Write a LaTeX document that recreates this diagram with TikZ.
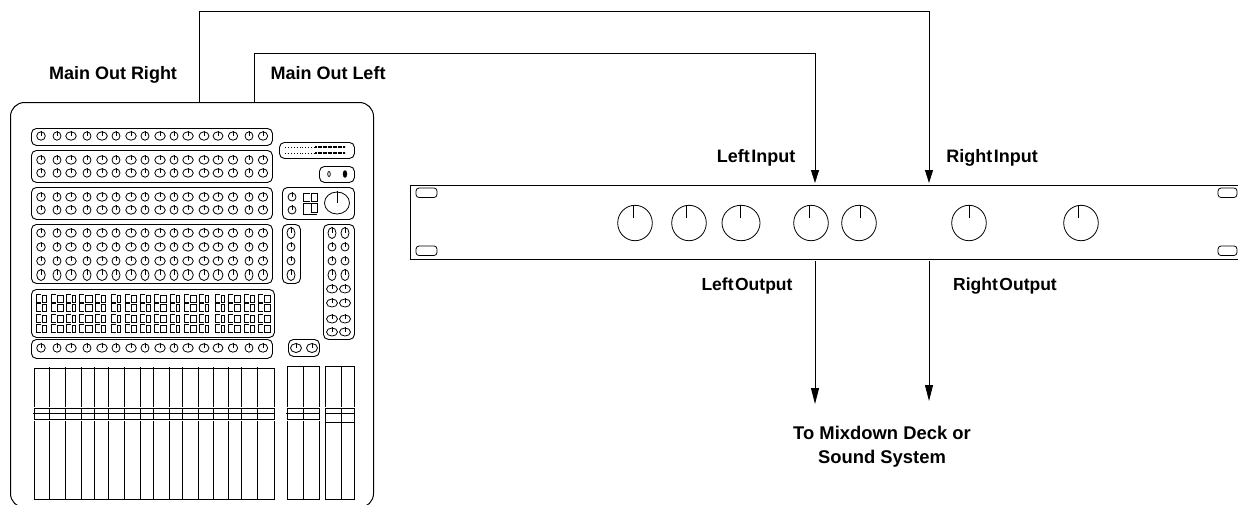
\documentclass[tikz,border=0pt]{standalone}
\usepackage{fontspec}
\setmainfont{Liberation Sans}
\usetikzlibrary{positioning, arrows.meta}

\tikzset{
    wire/.style={draw, line width=0.9pt},
    arrowwire/.style={wire, -{Triangle[length=13pt,width=8pt]}},
    longwire/.style={wire, -{Triangle[length=16pt,width=8pt]}},
    panel/.style={draw, line width=0.9pt, rounded corners=5pt, inner sep=0pt, anchor=north west},
    knobline/.style={draw, line width=0.8pt},
    slider/.style={draw, line width=0.8pt},
    caption/.style={font=\fontsize{18}{24}\selectfont\bfseries, align=center, inner sep=0pt, anchor=base},
    smallcaption/.style={caption, font=\fontsize{17.5}{24}\selectfont\bfseries},
    bigcaption/.style={caption, font=\fontsize{18.4}{24}\selectfont\bfseries}
}

% knob at (x,y) with radii rx, ry
\newcommand{\knob}[4]{
    \draw[knobline] (#1,#2) ellipse ({#3} and {#4});
    \draw[knobline] (#1,#2-#4-1) -- (#1,#2);
}
% pair of switch boxes: left edge, width, top, bottom
\newcommand{\switchpair}[4]{
    \draw[line width=0.8pt] (#1+5,#3) -- (#1,#3) -- (#1,#4) -- (#1+5,#4);
    \draw[line width=0.8pt] (#1+6,#3+1) rectangle (#1+#2,#4);
}

\begin{document}
\begin{tikzpicture}[x=1pt, y=-1pt]
    \useasboundingbox (0,0) rectangle (1238,504);

    % mixer
    \node[draw, line width=1pt, rounded corners=14pt, minimum width=363pt, minimum height=405pt, inner sep=0pt, anchor=north west] (mixer) at (10,102) {};
    \coordinate (outR) at (199,102);
    \coordinate (outL) at (254,102);

    \node[panel, minimum width=241pt, minimum height=17pt] (rowA) at (31,128) {};
    \node[panel, minimum width=241pt, minimum height=32pt] (rowB) at (31,150) {};
    \node[panel, minimum width=241pt, minimum height=32pt] (rowC) at (31,187) {};
    \node[panel, minimum width=241pt, minimum height=59pt] (rowD) at (31,224) {};
    \node[panel, minimum width=243pt, minimum height=48pt] (rowE) at (31,289) {};
    \node[panel, minimum width=241pt, minimum height=19pt] (rowF) at (31,339) {};

    \foreach \x/\r in {41/4.3,57/4,71/5.3,87/4,102/5.3,116/4,131/5.3,145/4,160/5.3,174/4,188/5.3,204/5,218/5,233/4.7,249/4,263/4.7} {
        \foreach \y in {136,160,173,197,210,233,247,261,348} {
            \knob{\x}{\y}{\r}{4.2}
        }
        \knob{\x}{275}{\r}{5.5}
    }
    % switches
    \foreach \x/\w in {36/10,51/12,66/9,79/13,95/10,111/9,125/11,140/10,154/12,170/9,184/12,199/9,215/9,228/12,244/10,258/12} {
        \foreach \t/\b in {294/302,303/311,314/322,324/332} {
            \switchpair{\x}{\w}{\t}{\b}
        }
    }

    % meter section
    \node[panel, minimum width=75pt, minimum height=16pt] (meter) at (279,142) {};
    \foreach \y in {147,153} {
        \draw[line width=0.9pt, dotted] (285,\y) -- (315,\y);
        \draw[line width=1.1pt, dash pattern=on 2pt off 0.5pt] (315,\y) -- (345,\y);
    }
    \node[panel, minimum width=35pt, minimum height=16pt] (phones) at (319,166) {};
    \draw[line width=0.8pt] (329,174) ellipse (1.3 and 2.5);
    \draw[fill=black] (345,174) ellipse (2 and 3.5);

    % master section
    \node[panel, minimum width=72pt, minimum height=32pt] (master) at (282,187) {};
    \knob{292}{197}{4}{4}
    \knob{292}{210}{4}{4}
    \draw[line width=0.8pt] (310,193) -- (303,193) -- (303,201) -- (310,201);
    \draw[line width=0.8pt] (311,193) rectangle (317,201);
    \draw[line width=0.8pt] (317,203) -- (303,203) -- (303,214) -- (317,214);
    \draw[line width=0.8pt] (311,203) rectangle (317,212);
    \knob{337}{203}{12.5}{11}

    \node[panel, minimum width=18pt, minimum height=59pt] (aux) at (282,224) {};
    \knob{291}{233}{4}{5.5}
    \knob{291}{247}{4}{4}
    \knob{291}{261}{4}{4}
    \knob{291}{275}{4}{5.5}

    \node[panel, minimum width=31pt, minimum height=115pt] (sends) at (323,224) {};
    \foreach \x in {332,345} {
        \knob{\x}{233}{4}{5.5}
        \knob{\x}{247}{4}{4}
        \knob{\x}{261}{4}{4}
        \knob{\x}{275}{4}{5.5}
        \foreach \y in {289,303,319,332} {
            \knob{\x}{\y}{5.5}{4}
        }
    }
    \node[panel, minimum width=31pt, minimum height=17pt] (pair) at (288,339) {};
    \knob{296}{348}{5.5}{4.5}
    \knob{312}{348}{5.5}{4.5}

    % faders
    \draw[slider] (34,407) -- (34,368) -- (274,368) -- (274,407);
    \draw[slider] (34,421) -- (34,499) -- (274,499) -- (274,421);
    \foreach \x in {49,65,81,94,108,124,140,153,169,182,198,213,228,241,257} {
        \draw[slider] (\x,367) -- (\x,407);
        \draw[slider] (\x,421) -- (\x,499);
        \draw[slider] (\x,408.5) -- (\x,419.5);
    }
    \draw[slider] (34,408.5) rectangle (274,419.5);
    \draw[slider] (33,413.5) -- (275,413.5);

    \draw[slider] (287,407) -- (287,366) -- (319,366) -- (319,407);
    \draw[slider] (287,421) -- (287,499) -- (319,499) -- (319,421);
    \draw[slider] (303,366) -- (303,407);
    \draw[slider] (303,421) -- (303,499);
    \draw[slider] (287,408.5) rectangle (319,419.5);
    \draw[slider] (286,413.5) -- (319,413.5);
    \draw[slider] (303,408.5) -- (303,419.5);

    \draw[slider, line width=1pt] (325,407) -- (325,366) -- (354,366) -- (354,407);
    \draw[slider, line width=1pt] (325,408.5) rectangle (354,422);
    \draw[slider, line width=1pt] (325,422) -- (325,499) -- (354,499) -- (354,422);
    \draw[slider] (341,366) -- (341,407);
    \draw[slider] (341,408.5) -- (341,499);
    \draw[slider] (325,413.5) -- (354,413.5);

    % rack unit
    \node[draw, line width=1pt, minimum width=840pt, minimum height=74pt, inner sep=0pt, anchor=north west] (rack) at (410,185) {};
    \foreach \x/\y/\w in {416/188/21,416/246/21,1218/188/19,1218/246/19} {
        \draw[line width=0.8pt, rounded corners=3pt] (\x,\y) rectangle (\x+\w,\y+9.5);
    }
    \foreach \x/\t/\r in {635/633/17.3,689/686/17.3,741/740/19,811/809/17.3,859/860/17.3,969/969/17.3,1081/1078/17.3} {
        \draw[knobline] (\x,223) ellipse (\r pt and 17.7pt);
        \draw[knobline] (\t,205) -- (\t,218);
    }
    \coordinate (inL) at (815,183);
    \coordinate (inR) at (929,183);
    \coordinate (romL) at (815,261);
    \coordinate (romR) at (929,261);
    \coordinate (endL) at (815,404);
    \coordinate (endR) at (929,401);
    \coordinate (topR) at (929,11);
    \coordinate (topL) at (815,53);

    % connections
    \draw[arrowwire] (outR) |- (topR) -- (inR);
    \draw[arrowwire] (outL) |- (topL) -- (inL);
    \draw[longwire] (romL) -- (endL);
    \draw[longwire] (romR) -- (endR);

    % labels
    \node[caption] (lblR) at (113,79) {Main Out Right};
    \node[caption] (lblL) at (328,79) {Main Out Left};
    \node[caption] (lblIL) at (756,162) {Left\hspace{1.5pt}Input};
    \node[caption] (lblIR) at (992,162) {Right\hspace{1.5pt}Input};
    \node[smallcaption] (lblOL) at (747,290) {Left\hspace{1.5pt}Output};
    \node[smallcaption] (lblOR) at (1005,290) {Right\hspace{1.5pt}Output};
    \node[bigcaption] (lblMix) at (882,463) {To Mixdown Deck or\\Sound System};
\end{tikzpicture}
\end{document}
